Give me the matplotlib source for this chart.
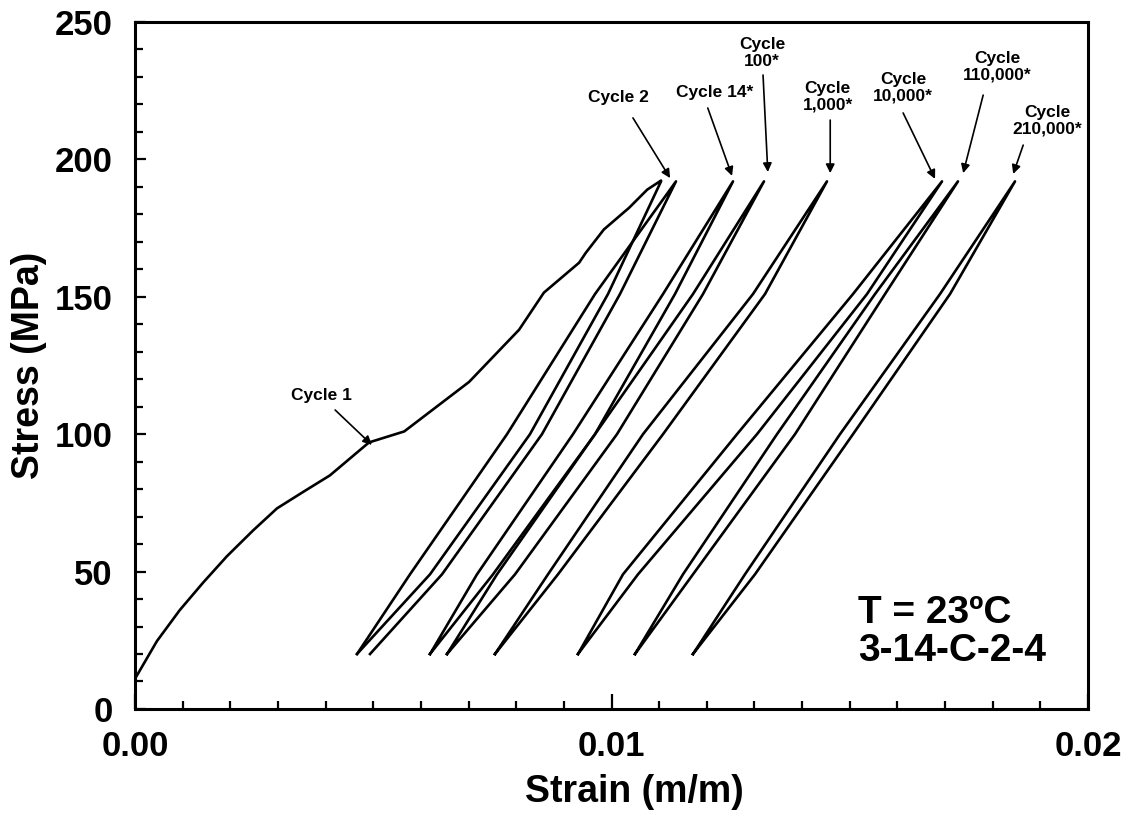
import matplotlib
matplotlib.use('Agg')
import matplotlib.pyplot as plt
from matplotlib.ticker import MultipleLocator

plt.rcParams['font.family'] = ['Liberation Sans', 'DejaVu Sans']
plt.rcParams['font.weight'] = 'bold'

# Cycle 1 loading curve (strain m/m, stress MPa)
c1_strain = [0.0, 0.00046, 0.00094, 0.00143, 0.00193, 0.00248, 0.00298, 0.00353,
             0.00409, 0.00491, 0.00565, 0.00701, 0.00806, 0.00858, 0.00932, 0.00946,
             0.00984, 0.01037, 0.01075, 0.01104]
c1_stress = [11, 24.7, 36, 46, 55.6, 65, 73, 79, 85, 97, 101, 119, 138, 151.5,
             162.4, 166, 174.5, 182.4, 189, 192.3]

# stress levels at which the loop branches were read
levels = [20, 49, 100, 151, 192]

# strain of each branch at those stress levels
c1_unload = [0.004659, 0.006191, 0.008289, 0.009926, 0.011039]
c2_load = [0.004659, 0.005771, 0.007807, 0.009654, 0.011353]
c2_unload = [0.004932, 0.006443, 0.008541, 0.010178, 0.011353]
c14_load = [0.006191, 0.007177, 0.009192, 0.011081, 0.01255]
c14_unload = [0.006191, 0.007513, 0.009654, 0.011332, 0.01255]
c100_load = [0.006548, 0.007597, 0.009654, 0.01171, 0.0132]
c100_unload = [0.006548, 0.007975, 0.010115, 0.01192, 0.0132]
c1k_load = [0.007555, 0.008667, 0.010661, 0.012969, 0.014522]
c1k_unload = [0.007555, 0.008877, 0.011081, 0.013221, 0.014522]
c10k_load = [0.009297, 0.010241, 0.012634, 0.015068, 0.016936]
c10k_unload = [0.009297, 0.010556, 0.013053, 0.015362, 0.016936]
c110k_load = [0.010493, 0.0115, 0.013473, 0.01553, 0.017271]
c110k_unload = [0.010493, 0.01171, 0.013851, 0.01574, 0.017271]
c210k_load = [0.01171, 0.012801, 0.014795, 0.016894, 0.018468]
c210k_unload = [0.01171, 0.013011, 0.015068, 0.017104, 0.018468]

loops = [(c2_load, c2_unload), (c14_load, c14_unload), (c100_load, c100_unload),
         (c1k_load, c1k_unload), (c10k_load, c10k_unload),
         (c110k_load, c110k_unload), (c210k_load, c210k_unload)]

# annotations: label, text position, arrow tail, arrow head
labels = ['Cycle 1', 'Cycle 2', 'Cycle 14*', 'Cycle\n100*', 'Cycle\n1,000*',
          'Cycle\n10,000*', 'Cycle\n110,000*', 'Cycle\n210,000*']
text_pos = [(0.00392, 113.9), (0.01014, 222.7), (0.01217, 224.2), (0.01316, 238.7),
            (0.01454, 222.7), (0.01612, 226.0), (0.01809, 233.6), (0.01914, 214.0)]
tails = [(0.0042, 108.8), (0.01045, 215.1), (0.01202, 218.7), (0.01318, 230.7),
         (0.01459, 214.3), (0.01612, 216.9), (0.0178, 223.4), (0.01864, 205.2)]
heads = [(0.00497, 96.1), (0.01123, 193.2), (0.01253, 194.0), (0.01328, 195.4),
         (0.01459, 195.0), (0.01679, 192.9), (0.01738, 195.0), (0.01843, 194.7)]

fig = plt.figure(figsize=(11.27, 8.24), dpi=100)
ax = fig.add_axes([0.1198, 0.1396, 0.8456, 0.8337])

lw = 1.9
ax.plot(c1_strain + c1_unload[::-1], c1_stress + levels[::-1], color='black', lw=lw)
for load, unload in loops:
    ax.plot(load + unload[::-1], levels + levels[::-1], color='black', lw=lw)

for lab, tp, tl, hd in zip(labels, text_pos, tails, heads):
    ax.text(tp[0], tp[1], lab, ha='center', va='center', fontsize=12.5,
            fontweight='bold', linespacing=1.1)
    ax.annotate('', xy=hd, xytext=tl,
                arrowprops=dict(arrowstyle='-|>', color='black', lw=1.2,
                                mutation_scale=13, shrinkA=0, shrinkB=0))

ax.text(0.01517, 28.0, 'T = 23ºC\n3-14-C-2-4', ha='left', va='center',
        fontsize=28, fontweight='bold', linespacing=1.1)

ax.set_xlim(0, 0.02)
ax.set_ylim(0, 250)
ax.set_xticks([0, 0.01, 0.02])
ax.set_xticklabels(['0.00', '0.01', '0.02'])
ax.set_yticks([0, 50, 100, 150, 200, 250])
ax.xaxis.set_minor_locator(MultipleLocator(0.001))
ax.yaxis.set_minor_locator(MultipleLocator(10))
ax.tick_params(which='both', direction='in', top=False, right=False, width=1.6)
ax.tick_params(axis='x', which='major', length=11, pad=15, labelsize=25)
ax.tick_params(axis='x', which='minor', length=6)
ax.tick_params(axis='y', which='major', length=8, pad=16, labelsize=25)
ax.tick_params(axis='y', which='minor', length=6)
for lbl in ax.get_xticklabels() + ax.get_yticklabels():
    lbl.set_fontweight('bold')
for sp in ax.spines.values():
    sp.set_linewidth(2.2)

ax.set_xlabel('Strain (m/m)', fontsize=27, fontweight='bold')
ax.set_ylabel('Stress (MPa)', fontsize=27, fontweight='bold', labelpad=6)
ax.xaxis.set_label_coords(0.524, -0.095)

fig.savefig('out.png', dpi=100)
